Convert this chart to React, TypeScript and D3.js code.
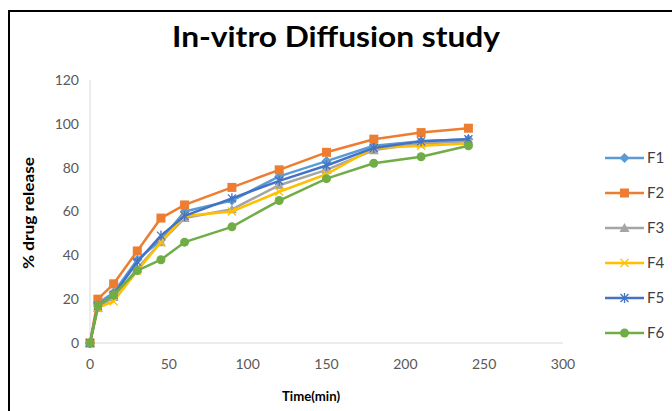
import React from "react";
import * as d3 from "d3";

const times = [0, 5, 15, 30, 45, 60, 90, 120, 150, 180, 210, 240];
const F1 = [0, 18, 23, 38, 47, 60, 65, 76, 83, 90, 92, 93];
const F2 = [0, 20, 27, 42, 57, 63, 71, 79, 87, 93, 96, 98];
const F3 = [0, 16, 21, 34, 46, 57, 61, 72, 79, 88, 91, 92];
const F4 = [0, 16, 19, 33, 46, 58, 60, 69, 77, 89, 90, 91];
const F5 = [0, 17, 22, 37, 49, 58, 66, 74, 81, 89, 92, 93];
const F6 = [0, 17, 22, 33, 38, 46, 53, 65, 75, 82, 85, 90];
const seriesNames = ["F1", "F2", "F3", "F4", "F5", "F6"];
const seriesValues = [F1, F2, F3, F4, F5, F6];
const colors = ["#5B9BD5", "#ED7D31", "#A5A5A5", "#FFC000", "#4472C4", "#70AD47"];
const markers = ["diamond", "square", "triangle", "x", "star", "circle"];
const xTicks = [0, 50, 100, 150, 200, 250, 300];
const yTicks = [0, 20, 40, 60, 80, 100, 120];

const W = 672, H = 411;
const FONT = "Lato, 'Open Sans', sans-serif";

function Marker({ type, x, y, color }: { type: string; x: number; y: number; color: string }) {
  const s = 4;
  switch (type) {
    case "diamond":
      return <path d={`M${x},${y - 5}L${x + 5},${y}L${x},${y + 5}L${x - 5},${y}Z`} fill={color} />;
    case "square":
      return <rect x={x - s - 0.5} y={y - s - 0.5} width={2 * s + 1} height={2 * s + 1} fill={color} />;
    case "triangle":
      return <path d={`M${x},${y - 5}L${x + 5},${y + 4}L${x - 5},${y + 4}Z`} fill={color} />;
    case "x":
      return <path d={`M${x - s},${y - s}L${x + s},${y + s}M${x - s},${y + s}L${x + s},${y - s}`} stroke={color} strokeWidth={1.3} />;
    case "star":
      return (
        <path
          d={`M${x - s},${y - s}L${x + s},${y + s}M${x - s},${y + s}L${x + s},${y - s}M${x},${y - s - 1}L${x},${y + s + 1}`}
          stroke={color}
          strokeWidth={1.3}
        />
      );
    default:
      return <circle cx={x} cy={y} r={4.5} fill={color} />;
  }
}

export default function App() {
  const x = d3.scaleLinear().domain([0, 300]).range([90, 563]);
  const y = d3.scaleLinear().domain([0, 120]).range([343, 80]);
  const line = d3
    .line<number>()
    .x((_, i) => x(times[i]))
    .y((d) => y(d));

  const legendY = (i: number) => 158 + i * 35;

  return (
    <svg width={W} height={H} style={{ position: "absolute", left: 0, top: 0 }}>
      <rect x={0} y={0} width={W} height={H} fill="#fff" />
      <path d={`M9,${H}L9,11L${W},11`} fill="none" stroke="#000" strokeWidth={2} />
      <text x={336} y={47} textAnchor="middle" fontFamily={FONT} fontWeight="bold" fontSize={29} textLength={328} lengthAdjust="spacingAndGlyphs" fill="#000">
        In-vitro Diffusion study
      </text>
      {/* axes */}
      <line x1={x(0)} x2={x(0)} y1={y(120)} y2={y(0)} stroke="#d9d9d9" strokeWidth={1} />
      <line x1={x(0)} x2={x(300)} y1={y(0)} y2={y(0)} stroke="#d9d9d9" strokeWidth={1} />
      {yTicks.map((t) => (
        <text key={t} x={79} y={y(t)} dy="0.35em" textAnchor="end" fontFamily={FONT} fontSize={14} fill="#595959">
          {t}
        </text>
      ))}
      {xTicks.map((t) => (
        <text key={t} x={x(t)} y={369} textAnchor="middle" fontFamily={FONT} fontSize={14} fill="#595959">
          {t}
        </text>
      ))}
      <text x={311} y={401} textAnchor="middle" fontFamily={FONT} fontWeight="bold" fontSize={14} textLength={58} lengthAdjust="spacingAndGlyphs" fill="#000">
        Time(min)
      </text>
      <text
        transform={`translate(34,213) rotate(-90)`}
        textAnchor="middle"
        fontFamily={FONT}
        fontWeight="bold"
        fontSize={15}
        textLength={112}
        lengthAdjust="spacingAndGlyphs"
        fill="#000"
      >
        % drug release
      </text>
      {/* series */}
      {seriesValues.map((vals, si) => (
        <g key={si}>
          <path d={line(vals) || ""} fill="none" stroke={colors[si]} strokeWidth={2.5} strokeLinejoin="round" />
          {vals.map((v, i) => (
            <Marker key={i} type={markers[si]} x={x(times[i])} y={y(v)} color={colors[si]} />
          ))}
        </g>
      ))}
      {/* legend */}
      {seriesNames.map((n, i) => (
        <g key={n}>
          <line x1={605} x2={644} y1={legendY(i)} y2={legendY(i)} stroke={colors[i]} strokeWidth={2.5} />
          <Marker type={markers[i]} x={624.5} y={legendY(i)} color={colors[i]} />
          <text x={647} y={legendY(i)} dy="0.35em" fontFamily={FONT} fontSize={15} fill="#404040">
            {n}
          </text>
        </g>
      ))}
    </svg>
  );
}
